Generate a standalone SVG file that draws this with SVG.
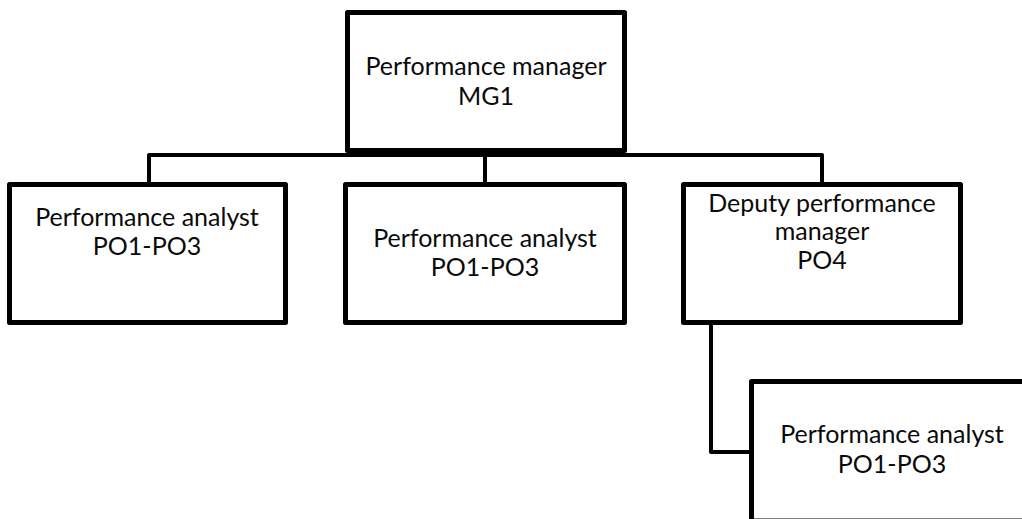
<svg xmlns="http://www.w3.org/2000/svg" width="1022" height="519" viewBox="0 0 1022 519">
<style>
.box{fill:#fff;stroke:#000;stroke-width:5;stroke-linejoin:round}
.conn{fill:none;stroke:#000;stroke-width:4;stroke-linejoin:round}
.t{font-family:Lato,"Open Sans","Liberation Sans",sans-serif;font-size:25px;fill:#0a0a0a;text-anchor:middle}
</style>
<rect width="1022" height="519" fill="#fff"/>
<g id="connectors">
<path class="conn" d="M149,184 V155 H822 V184"/>
<path class="conn" d="M485,152 V184"/>
<path class="conn" d="M711,322 V452 H752"/>
</g>
<g id="mg1">
<rect class="box" x="347.5" y="12.5" width="277" height="138"/>
<text class="t" x="486" y="75">Performance manager</text>
<text class="t" x="486" y="105">MG1</text>
</g>
<g id="analyst1">
<rect class="box" x="9.5" y="184.5" width="276" height="138"/>
<text class="t" x="147" y="226">Performance analyst</text>
<text class="t" x="147" y="255">PO1-PO3</text>
</g>
<g id="analyst2">
<rect class="box" x="345.5" y="184.5" width="279" height="138"/>
<text class="t" x="485" y="247">Performance analyst</text>
<text class="t" x="485" y="276">PO1-PO3</text>
</g>
<g id="po4">
<rect class="box" x="683.5" y="184.5" width="277" height="138"/>
<text class="t" x="822" y="212">Deputy performance</text>
<text class="t" x="822" y="240">manager</text>
<text class="t" x="822" y="269">PO4</text>
</g>
<g id="analyst3">
<rect class="box" x="751.5" y="381.5" width="300" height="139.5"/>
<text class="t" x="892" y="443">Performance analyst</text>
<text class="t" x="892" y="473">PO1-PO3</text>
</g>
</svg>
